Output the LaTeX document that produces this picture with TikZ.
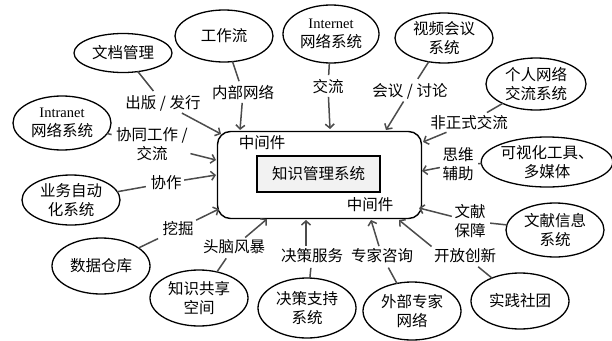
\documentclass[tikz,border=0pt]{standalone}
\usepackage{fontspec}
\setmainfont{Liberation Serif}
\newfontfamily\cjk{Noto Sans CJK SC}
\usetikzlibrary{shapes.geometric,arrows.meta}
\begin{document}
\begin{tikzpicture}[x=1pt,y=-1pt,
  every node/.style={font=\cjk\fontsize{15.5}{19}\selectfont,align=center,inner sep=1pt},
  ell/.style={draw,ellipse,line width=1.3pt,inner sep=0pt},
  lbl/.style={inner sep=1.5pt},
  stub/.style={draw=gray!60!black,line width=1.5pt,shorten >=3pt,shorten <=-1pt},
  arr/.style={draw=gray!60!black,line width=1.5pt,-{Straight Barb[length=4pt,width=9pt]},shorten <=1pt}
]
\useasboundingbox (0,0) rectangle (612,340);
% central box
\node[draw,line width=1.4pt,rounded corners=13pt,minimum width=204pt,minimum height=87pt] (mw) at (319.5,175) {};
\node[draw,line width=1.5pt,fill=gray!10,minimum width=123pt,minimum height=36pt] (kms) at (318.5,174) {知识管理系统};
\node (mwa) at (262,143) {中间件};
\node (mwb) at (370,205) {中间件};
% ellipses
\node[ell,minimum width=98pt,minimum height=39pt] (e1) at (123,53) {文档管理};
\node[ell,minimum width=98pt,minimum height=52pt] (e2) at (224,36) {工作流};
\node[ell,minimum width=96pt,minimum height=58pt] (e3) at (331,34) {\textrm{\fontsize{14.5}{16}\selectfont Internet}\\网络系统};
\node[ell,minimum width=98pt,minimum height=50pt] (e4) at (444,38) {视频会议\\系统};
\node[ell,minimum width=100pt,minimum height=52pt] (e5) at (536,84) {个人网络\\交流系统};
\node[ell,minimum width=98pt,minimum height=54pt] (e6) at (62,123) {\textrm{\fontsize{14.5}{16}\selectfont Intranet}\\网络系统};
\node[ell,minimum width=120pt,minimum height=50pt] (e7) at (547,162) {可视化工具、\\多媒体};
\node[ell,minimum width=98pt,minimum height=50pt] (e8) at (71,200) {业务自动\\化系统};
\node[ell,minimum width=98pt,minimum height=56pt] (e9) at (101,266) {数据仓库};
\node[ell,minimum width=98pt,minimum height=56pt] (e10) at (199,298) {知识共享\\空间};
\node[ell,minimum width=98pt,minimum height=60pt] (e11) at (307,308) {决策支持\\系统};
\node[ell,minimum width=98pt,minimum height=58pt] (e12) at (412,311) {外部专家\\网络};
\node[ell,minimum width=98pt,minimum height=56pt] (e13) at (520,301) {实践社团};
\node[ell,minimum width=98pt,minimum height=54pt] (e14) at (555,230) {文献信息\\系统};
% labels
\node[lbl] (l1) at (163,103) {出版 / 发行};
\node[lbl] (l2) at (243,93) {内部网络};
\node[lbl] (l3) at (152,144) {协同工作 /\\交流};
\node[lbl] (l4) at (328,87) {交流};
\node[lbl] (l5) at (410,91) {会议 / 讨论};
\node[lbl] (l6) at (469,123) {非正式交流};
\node[lbl] (l7) at (458,164) {思维\\辅助};
\node[lbl] (l8) at (166,183) {协作};
\node[lbl] (l9) at (178,229) {挖掘};
\node[lbl] (l10) at (234,247) {头脑风暴};
\node[lbl] (l11) at (312,256) {决策服务};
\node[lbl] (l12) at (382,256) {专家咨询};
\node[lbl] (l13) at (465,256) {开放创新};
\node[lbl] (l14) at (470,221) {文献\\保障};
% arrow targets on the box
\coordinate (a1) at (221,134);
\coordinate (a2) at (240,130);
\coordinate (a3) at (216,160);
\coordinate (a4) at (330,129);
\coordinate (a5) at (386,130);
\coordinate (a6) at (423,142);
\coordinate (a7) at (422,171);
\coordinate (a8) at (419,208);
\coordinate (a9) at (216,175);
\coordinate (a10) at (219,209);
\coordinate (a11) at (267,219);
\coordinate (a12) at (306,220);
\coordinate (a13) at (371,220);
\coordinate (a14) at (399,220);
% stubs
\draw[stub] (e1) -- (l1);
\draw[stub] (e2) -- (l2);
\draw[stub] (e3) -- (l4);
\draw[stub] (e4) -- (l5);
\draw[stub] (e5) -- (l6);
\draw[stub] (e6) -- (l3);
\draw[stub] (e7) -- (l7);
\draw[stub] (e8) -- (l8);
\draw[stub] (e9) -- (l9);
\draw[stub] (e10) -- (l10);
\draw[stub] (e11) -- (l11);
\draw[stub] (e12) -- (l12);
\draw[stub] (e13) -- (l13);
\draw[stub] (e14) -- (l14);
% arrows
\draw[arr] (l1) -- (a1);
\draw[arr] (l2) -- (a2);
\draw[arr] (l3) -- (a3);
\draw[arr] (l4) -- (a4);
\draw[arr] (l5) -- (a5);
\draw[arr] (l6) -- (a6);
\draw[arr] (l7) -- (a7);
\draw[arr] (l14) -- (a8);
\draw[arr] (l8) -- (a9);
\draw[arr] (l9) -- (a10);
\draw[arr] (l10) -- (a11);
\draw[arr] (l11.north -| a12) -- (a12);
\draw[arr] (l12) -- (a13);
\draw[arr] (l13.north west) -- (a14);
\end{tikzpicture}
\end{document}
